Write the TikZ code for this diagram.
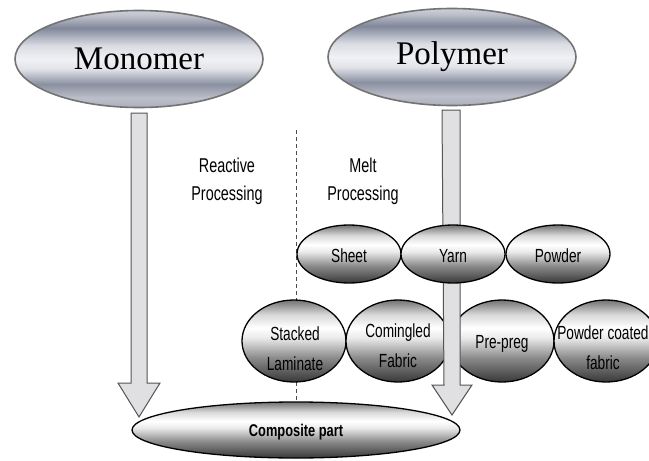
\documentclass[tikz,border=0pt]{standalone}
\usepackage{fontspec}
\setmainfont{Liberation Serif}
\newfontfamily\condsans[FakeStretch=0.72]{Liberation Sans}
\usetikzlibrary{shapes.geometric,calc}

% metallic blue-grey tones for the two source ellipses
\definecolor{mBot}{RGB}{172,176,188}
\definecolor{mLow}{RGB}{188,191,201}
\definecolor{mDarkA}{RGB}{138,144,161}
\definecolor{mLight}{RGB}{226,228,233}
\definecolor{mWhite}{RGB}{240,241,244}
\definecolor{mLight2}{RGB}{218,220,227}
\definecolor{mDarkB}{RGB}{128,135,154}
\definecolor{mHigh}{RGB}{188,191,201}
\definecolor{mTop}{RGB}{206,208,215}
\definecolor{arrowfill}{RGB}{224,224,226}
\definecolor{arrowline}{RGB}{85,85,85}

\pgfdeclareverticalshading{metal}{100bp}{%
  color(0bp)=(mBot); color(25bp)=(mBot); color(30bp)=(mLow);
  color(37bp)=(mDarkA); color(45bp)=(mLight); color(50bp)=(mWhite);
  color(57bp)=(mLight2); color(66bp)=(mDarkB); color(72bp)=(mHigh);
  color(75bp)=(mTop); color(100bp)=(mTop)}

\pgfdeclareverticalshading{glossy}{100bp}{%
  color(0bp)=(black!78); color(25bp)=(black!78); color(40bp)=(black!45);
  color(52bp)=(black!8); color(58bp)=(white); color(66bp)=(black!15);
  color(75bp)=(black!55); color(100bp)=(black!55)}

\tikzset{
  source/.style={ellipse, draw=black!55, line width=1.6pt, shading=metal,
    minimum width=248pt, minimum height=97pt, inner sep=0pt,
    font=\fontsize{33}{36}\selectfont},
  form/.style={ellipse, draw=black, line width=1.3pt, shading=glossy,
    inner sep=0pt},
  formA/.style={form, minimum width=104pt, minimum height=58pt},
  formB/.style={form, minimum width=104pt, minimum height=82pt},
  formtext/.style={align=center, inner sep=0pt,
    font=\condsans\fontsize{19}{30}\selectfont},
  routetext/.style={align=center, inner sep=0pt,
    font=\condsans\fontsize{20}{28}\selectfont},
  blockarrow/.style={fill=arrowfill, draw=arrowline, line width=1pt,
    line join=miter},
  divider/.style={draw=black!70, line width=0.9pt, dash pattern=on 4pt off 3pt},
}

\begin{document}
\begin{tikzpicture}[x=1pt, y=-1pt]
  \useasboundingbox (0,0) rectangle (649,461);
  \fill[white] (0,0) rectangle (649,461);

  % divider between the two processing routes
  \coordinate (divtop) at (296,130);
  \coordinate (divbot) at (296,402);
  \draw[divider] (divtop) -- (divbot);

  % source materials
  \node[source] (mono) at (139,59) {Monomer};
  \node[source] (poly) at (452,57) {Polymer};

  % route labels
  \node[routetext] (reactive) at (227,181) {Reactive\\Processing};
  \node[routetext] (melt) at (363,181) {Melt\\Processing};

  % final product
  \node[form, minimum width=328pt, minimum height=56pt] (part) at (296,430) {};
  \node[inner sep=0pt, font=\condsans\bfseries\fontsize{17}{20}\selectfont,
        xscale=1.05] at (296,432) {Composite part};

  % intermediate forms, second row
  \node[formB] (stacked) at (294,341) {};
  \node[formB] (comingled) at (398,341) {};
  \node[formB] (prepreg) at (502,341) {};
  \node[formB] (coated) at (606,341) {};
  \node[formtext] at (295,349) {Stacked\\Laminate};
  \node[formtext] at (398,346) {Comingled\\Fabric};
  \node[formtext] at (502,344) {Pre-preg};
  \node[formtext] at (603,348) {Powder coated\\fabric};

  % reactive route: monomer straight to the part
  \coordinate (ltop) at (139,113);
  \coordinate (ltip) at (139,417);
  \draw[blockarrow]
    ($(ltop)+(-8,0)$) -- ($(ltop)+(8,0)$) -- ($(ltip)+(8,-34)$)
    -- ($(ltip)+(21,-34)$) -- (ltip) -- ($(ltip)+(-21,-34)$)
    -- ($(ltip)+(-8,-34)$) -- cycle;

  % melt route: polymer through the intermediate forms to the part
  \coordinate (rtop) at (451,110);
  \coordinate (rtip) at (452,415);
  \draw[blockarrow]
    ($(rtop)+(-9,0)$) -- ($(rtop)+(9,0)$) -- ($(rtip)+(8,-30)$)
    -- ($(rtip)+(20,-30)$) -- (rtip) -- ($(rtip)+(-20,-30)$)
    -- ($(rtip)+(-8,-30)$) -- cycle;

  % intermediate forms, first row
  \node[formA] (sheet) at (349,254) {};
  \node[formA] (yarn) at (453,254) {};
  \node[formA] (powder) at (558,254) {};
  \node[formtext] at (349,256) {Sheet};
  \node[formtext] at (453,256) {Yarn};
  \node[formtext] at (558,256) {Powder};
\end{tikzpicture}
\end{document}
